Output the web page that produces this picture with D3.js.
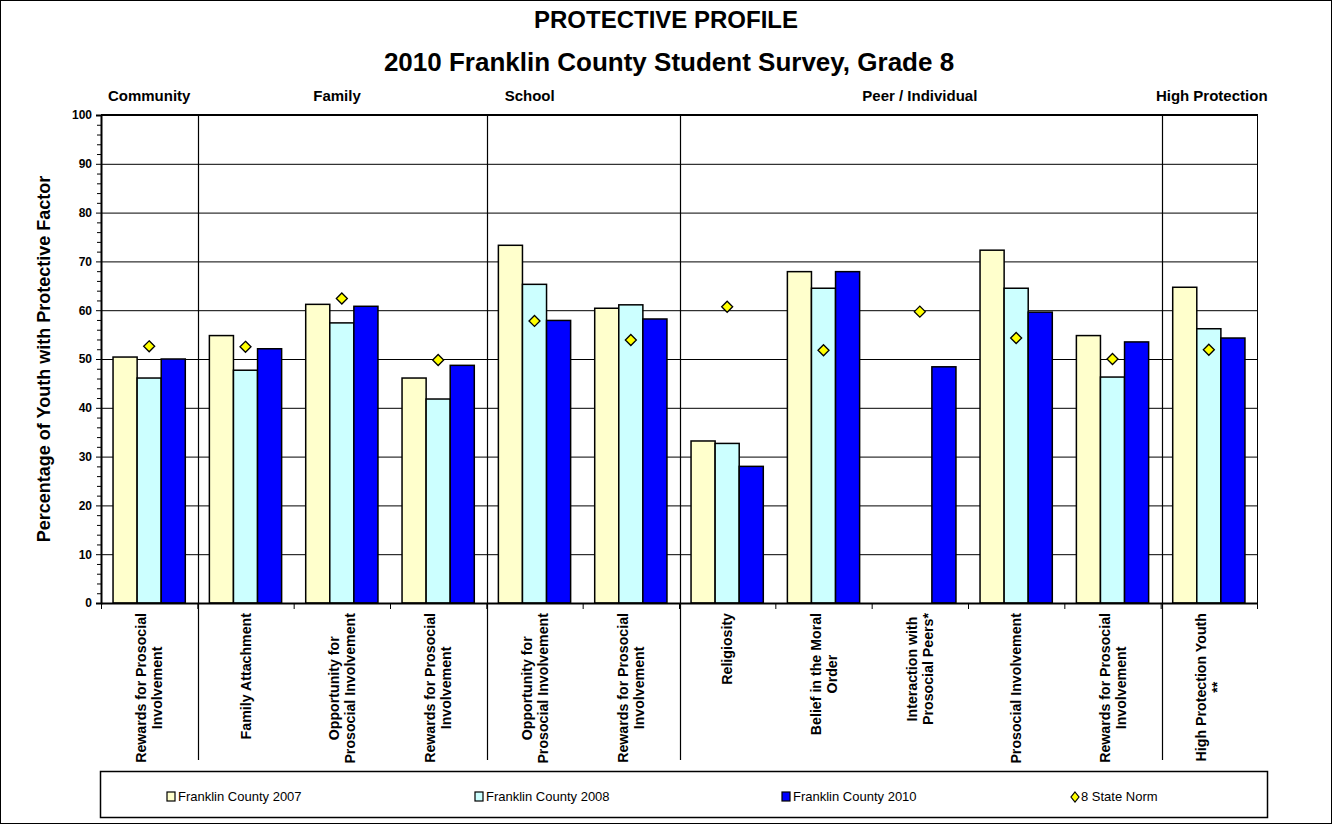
<!DOCTYPE html>
<html><head><meta charset="utf-8">
<script src="https://cdn.jsdelivr.net/npm/d3@7"></script>
<style>
html,body{margin:0;padding:0;background:#fff;}
svg{display:block;font-family:"Liberation Sans",Arial,sans-serif;}
</style></head>
<body>
<svg id="chart" width="1332" height="824"></svg>
<script>
// ---------- data ----------
const categories = [
  "Rewards for Prosocial\nInvolvement",
  "Family Attachment",
  "Opportunity for\nProsocial Involvement",
  "Rewards for Prosocial\nInvolvement",
  "Opportunity for\nProsocial Involvement",
  "Rewards for Prosocial\nInvolvement",
  "Religiosity",
  "Belief in the Moral\nOrder",
  "Interaction with\nProsocial Peers*",
  "Prosocial Involvement",
  "Rewards for Prosocial\nInvolvement",
  "High Protection Youth\n**"
];
const seriesNames = ["Franklin County 2007", "Franklin County 2008", "Franklin County 2010"];
const fc2007 = [50.4, 54.8, 61.2, 46.1, 73.3, 60.4, 33.2, 67.9, null, 72.3, 54.8, 64.7];
const fc2008 = [46.1, 47.7, 57.4, 41.8, 65.3, 61.1, 32.7, 64.5, null, 64.5, 46.3, 56.2];
const fc2010 = [50.0, 52.1, 60.8, 48.7, 57.9, 58.2, 28.0, 67.9, 48.4, 59.6, 53.5, 54.3];
const normName = "8 State Norm";
const stateNorm = [52.6, 52.5, 62.4, 49.8, 57.8, 53.9, 60.7, 51.8, 59.7, 54.3, 50.0, 51.9];
const groupNames = ["Community", "Family", "School", "Peer / Individual", "High Protection"];
const groupLabelPos = [0.5, 2.45, 4.45, 8.5, 11.53];   // in category units
const groupBreaks = [1, 4, 6, 11];                     // category boundaries
const yTicks = [0, 10, 20, 30, 40, 50, 60, 70, 80, 90, 100];
const title1 = "PROTECTIVE PROFILE";
const title2 = "2010 Franklin County Student Survey, Grade 8";
const yTitle = "Percentage of Youth with Protective Factor";

// ---------- layout ----------
const W = 1332, H = 824;
const L = 101, R = 1257, T = 115, B = 603;
const colors = ["#FFFFCC", "#CCFFFF", "#0000FF"];
const font = '"Liberation Sans",Arial,sans-serif';

const svg = d3.select("#chart");
svg.append("rect").attr("x",0.5).attr("y",0.5).attr("width",W-1).attr("height",H-1)
  .attr("fill","#fff").attr("stroke","#000").attr("stroke-width",1);

const idx = categories.map((d,i)=>i);
const x = d3.scaleBand().domain(idx).range([L,R]).paddingInner(0).paddingOuter(0);
const xs = d3.scaleBand().domain([0,1,2]).range([0,x.bandwidth()]).paddingInner(0).paddingOuter(0.5);
const y = d3.scaleLinear().domain([0,100]).range([B,T]);
const xPos = v => L + v * x.step();

// titles
svg.append("text").attr("x",666).attr("y",28).attr("text-anchor","middle")
  .attr("font-size",24).attr("font-weight","bold").text(title1);
svg.append("text").attr("x",669).attr("y",71).attr("text-anchor","middle")
  .attr("font-size",26).attr("font-weight","bold").text(title2);

// group labels
svg.selectAll(".grp").data(groupNames).enter().append("text")
  .attr("x",(d,i)=>xPos(groupLabelPos[i])).attr("y",101)
  .attr("text-anchor","middle").attr("font-size",15).attr("font-weight","bold").text(d=>d);

// gridlines
svg.append("g").selectAll("line").data(yTicks.filter(t=>t>0)).enter().append("line")
  .attr("x1",L).attr("x2",R).attr("y1",d=>y(d)+0.5).attr("y2",d=>y(d)+0.5)
  .attr("stroke","#000").attr("stroke-width",1);

// group separators
svg.append("g").selectAll("line").data(groupBreaks).enter().append("line")
  .attr("x1",d=>Math.round(xPos(d))+1.5).attr("x2",d=>Math.round(xPos(d))+1.5)
  .attr("y1",T).attr("y2",760).attr("stroke","#000").attr("stroke-width",1.2);

// plot right & top border
svg.append("line").attr("x1",R+0.5).attr("x2",R+0.5).attr("y1",T).attr("y2",B).attr("stroke","#000").attr("stroke-width",1);
svg.append("line").attr("x1",L).attr("x2",R+1).attr("y1",T).attr("y2",T).attr("stroke","#000").attr("stroke-width",2);

// bars
const seriesData = [fc2007, fc2008, fc2010];
seriesData.forEach((vals,s)=>{
  svg.append("g").selectAll("rect").data(vals.map((v,i)=>({v,i})).filter(d=>d.v!=null))
    .enter().append("rect")
    .attr("x",d=>x(d.i)+xs(s)).attr("width",xs.bandwidth())
    .attr("y",d=>y(d.v)).attr("height",d=>y(0)-y(d.v))
    .attr("fill",colors[s]).attr("stroke","#000").attr("stroke-width",1.5);
});

// state norm diamonds
const dsz = 5.5;
const diamond = `M0,${-dsz}L${dsz},0L0,${dsz}L${-dsz},0Z`;
svg.append("g").selectAll("path").data(stateNorm.map((v,i)=>({v,i}))).enter().append("path")
  .attr("d",diamond)
  .attr("transform",d=>`translate(${x(d.i)+x.bandwidth()/2},${y(d.v)})`)
  .attr("fill","#FFFF00").attr("stroke","#000").attr("stroke-width",1.3);

// y axis
const yAxis = d3.axisLeft(y).tickValues(yTicks).tickSize(5).tickFormat(d3.format("d"));
const ga = svg.append("g").attr("transform",`translate(${L},0)`).call(yAxis);
ga.select(".domain").attr("stroke-width",2);
ga.selectAll(".tick text").attr("font-size",12).attr("font-weight","bold").attr("font-family",font).attr("x",-9);
// minor ticks
const minor = d3.range(0,101,2).filter(v=>v%10!==0);
svg.append("g").selectAll("line").data(minor).enter().append("line")
  .attr("x1",L-4).attr("x2",L).attr("y1",d=>y(d)+0.5).attr("y2",d=>y(d)+0.5)
  .attr("stroke","#000").attr("stroke-width",1);

// x axis
const xAxis = d3.axisBottom(x).tickValues([]).tickSizeOuter(0);
const gx = svg.append("g").attr("transform",`translate(0,${B})`).call(xAxis);
gx.select(".domain").attr("stroke-width",2);
svg.append("g").selectAll("line").data(d3.range(0,categories.length+1)).enter().append("line")
  .attr("x1",d=>xPos(d)+0.5).attr("x2",d=>xPos(d)+0.5).attr("y1",B).attr("y2",B+6)
  .attr("stroke","#000").attr("stroke-width",1);

// category labels (rotated, block aligned to axis)
const labTop = 613;
idx.forEach(i=>{
  const lines = categories[i].split("\n");
  const cx = x(i) + x.bandwidth()/2;
  const lh = 16;
  const g = svg.append("g");
  const texts = lines.map((ln,k)=>{
    const off = (k - (lines.length-1)/2) * lh;
    return g.append("text").attr("font-size",14.2).attr("font-weight","bold")
      .attr("text-anchor","middle").attr("dominant-baseline","central").text(ln)
      .datum(off);
  });
  const maxW = d3.max(texts, t=>t.node().getComputedTextLength());
  texts.forEach(t=>{
    const off = t.datum();
    t.attr("transform",`translate(${cx+off},${labTop+maxW/2}) rotate(-90)`);
  });
});

// y title
svg.append("text").attr("transform",`translate(50,${(T+B)/2}) rotate(-90)`)
  .attr("text-anchor","middle").attr("font-size",18).attr("font-weight","bold").text(yTitle);

// legend
svg.append("rect").attr("x",100.5).attr("y",771.5).attr("width",1167).attr("height",46)
  .attr("fill","#fff").attr("stroke","#000").attr("stroke-width",1.5);
const legX = [167, 475, 782, 1070];
seriesNames.forEach((n,s)=>{
  svg.append("rect").attr("x",legX[s]).attr("y",792).attr("width",8).attr("height",9)
    .attr("fill",colors[s]).attr("stroke","#000").attr("stroke-width",1.2);
  svg.append("text").attr("x",legX[s]+11).attr("y",801).attr("font-size",13).text(n);
});
svg.append("path").attr("d","M0,-5L4,0L0,5L-4,0Z")
  .attr("transform",`translate(${legX[3]+5},797)`).attr("fill","#FFFF00").attr("stroke","#000").attr("stroke-width",1.2);
svg.append("text").attr("x",legX[3]+11).attr("y",801).attr("font-size",13).text(normName);
</script>
</body></html>
